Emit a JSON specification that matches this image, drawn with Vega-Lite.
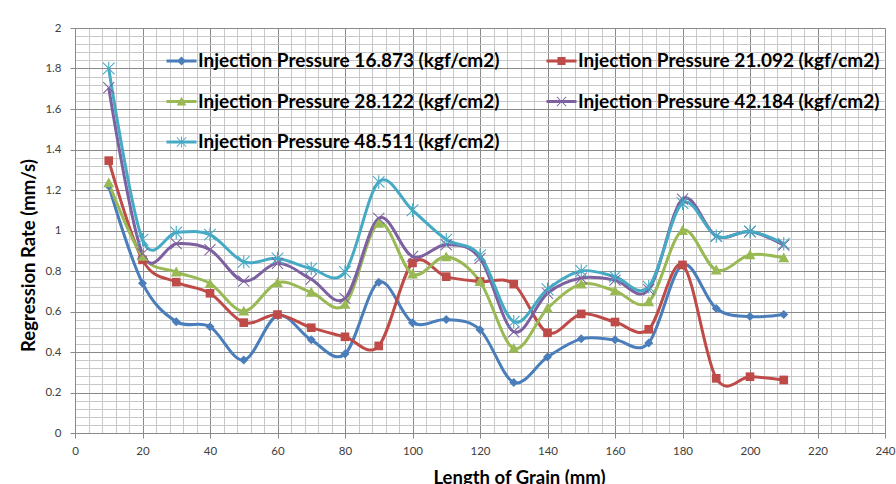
{
  "$schema": "https://vega.github.io/schema/vega-lite/v6.json",
  "width": 810,
  "height": 405,
  "autosize": "none",
  "padding": {"left": 75, "top": 28, "right": 11, "bottom": 51},
  "background": "white",
  "config": {"view": {"stroke": null}, "font": "Lato"},
  "data": {"values": [
    {"length": 10, "rate": 1.22, "series": "Injection Pressure 16.873 (kgf/cm2)"},
    {"length": 20, "rate": 0.74, "series": "Injection Pressure 16.873 (kgf/cm2)"},
    {"length": 30, "rate": 0.55, "series": "Injection Pressure 16.873 (kgf/cm2)"},
    {"length": 40, "rate": 0.525, "series": "Injection Pressure 16.873 (kgf/cm2)"},
    {"length": 50, "rate": 0.36, "series": "Injection Pressure 16.873 (kgf/cm2)"},
    {"length": 60, "rate": 0.58, "series": "Injection Pressure 16.873 (kgf/cm2)"},
    {"length": 70, "rate": 0.46, "series": "Injection Pressure 16.873 (kgf/cm2)"},
    {"length": 80, "rate": 0.39, "series": "Injection Pressure 16.873 (kgf/cm2)"},
    {"length": 90, "rate": 0.745, "series": "Injection Pressure 16.873 (kgf/cm2)"},
    {"length": 100, "rate": 0.545, "series": "Injection Pressure 16.873 (kgf/cm2)"},
    {"length": 110, "rate": 0.56, "series": "Injection Pressure 16.873 (kgf/cm2)"},
    {"length": 120, "rate": 0.51, "series": "Injection Pressure 16.873 (kgf/cm2)"},
    {"length": 130, "rate": 0.25, "series": "Injection Pressure 16.873 (kgf/cm2)"},
    {"length": 140, "rate": 0.375, "series": "Injection Pressure 16.873 (kgf/cm2)"},
    {"length": 150, "rate": 0.465, "series": "Injection Pressure 16.873 (kgf/cm2)"},
    {"length": 160, "rate": 0.46, "series": "Injection Pressure 16.873 (kgf/cm2)"},
    {"length": 170, "rate": 0.445, "series": "Injection Pressure 16.873 (kgf/cm2)"},
    {"length": 180, "rate": 0.83, "series": "Injection Pressure 16.873 (kgf/cm2)"},
    {"length": 190, "rate": 0.615, "series": "Injection Pressure 16.873 (kgf/cm2)"},
    {"length": 200, "rate": 0.575, "series": "Injection Pressure 16.873 (kgf/cm2)"},
    {"length": 210, "rate": 0.585, "series": "Injection Pressure 16.873 (kgf/cm2)"},
    {"length": 10, "rate": 1.345, "series": "Injection Pressure 21.092 (kgf/cm2)"},
    {"length": 20, "rate": 0.855, "series": "Injection Pressure 21.092 (kgf/cm2)"},
    {"length": 30, "rate": 0.745, "series": "Injection Pressure 21.092 (kgf/cm2)"},
    {"length": 40, "rate": 0.69, "series": "Injection Pressure 21.092 (kgf/cm2)"},
    {"length": 50, "rate": 0.545, "series": "Injection Pressure 21.092 (kgf/cm2)"},
    {"length": 60, "rate": 0.585, "series": "Injection Pressure 21.092 (kgf/cm2)"},
    {"length": 70, "rate": 0.52, "series": "Injection Pressure 21.092 (kgf/cm2)"},
    {"length": 80, "rate": 0.475, "series": "Injection Pressure 21.092 (kgf/cm2)"},
    {"length": 90, "rate": 0.43, "series": "Injection Pressure 21.092 (kgf/cm2)"},
    {"length": 100, "rate": 0.84, "series": "Injection Pressure 21.092 (kgf/cm2)"},
    {"length": 110, "rate": 0.772, "series": "Injection Pressure 21.092 (kgf/cm2)"},
    {"length": 120, "rate": 0.748, "series": "Injection Pressure 21.092 (kgf/cm2)"},
    {"length": 130, "rate": 0.735, "series": "Injection Pressure 21.092 (kgf/cm2)"},
    {"length": 140, "rate": 0.495, "series": "Injection Pressure 21.092 (kgf/cm2)"},
    {"length": 150, "rate": 0.588, "series": "Injection Pressure 21.092 (kgf/cm2)"},
    {"length": 160, "rate": 0.548, "series": "Injection Pressure 21.092 (kgf/cm2)"},
    {"length": 170, "rate": 0.512, "series": "Injection Pressure 21.092 (kgf/cm2)"},
    {"length": 180, "rate": 0.83, "series": "Injection Pressure 21.092 (kgf/cm2)"},
    {"length": 190, "rate": 0.27, "series": "Injection Pressure 21.092 (kgf/cm2)"},
    {"length": 200, "rate": 0.278, "series": "Injection Pressure 21.092 (kgf/cm2)"},
    {"length": 210, "rate": 0.262, "series": "Injection Pressure 21.092 (kgf/cm2)"},
    {"length": 10, "rate": 1.235, "series": "Injection Pressure 28.122 (kgf/cm2)"},
    {"length": 20, "rate": 0.872, "series": "Injection Pressure 28.122 (kgf/cm2)"},
    {"length": 30, "rate": 0.795, "series": "Injection Pressure 28.122 (kgf/cm2)"},
    {"length": 40, "rate": 0.738, "series": "Injection Pressure 28.122 (kgf/cm2)"},
    {"length": 50, "rate": 0.602, "series": "Injection Pressure 28.122 (kgf/cm2)"},
    {"length": 60, "rate": 0.742, "series": "Injection Pressure 28.122 (kgf/cm2)"},
    {"length": 70, "rate": 0.695, "series": "Injection Pressure 28.122 (kgf/cm2)"},
    {"length": 80, "rate": 0.635, "series": "Injection Pressure 28.122 (kgf/cm2)"},
    {"length": 90, "rate": 1.035, "series": "Injection Pressure 28.122 (kgf/cm2)"},
    {"length": 100, "rate": 0.785, "series": "Injection Pressure 28.122 (kgf/cm2)"},
    {"length": 110, "rate": 0.87, "series": "Injection Pressure 28.122 (kgf/cm2)"},
    {"length": 120, "rate": 0.748, "series": "Injection Pressure 28.122 (kgf/cm2)"},
    {"length": 130, "rate": 0.418, "series": "Injection Pressure 28.122 (kgf/cm2)"},
    {"length": 140, "rate": 0.615, "series": "Injection Pressure 28.122 (kgf/cm2)"},
    {"length": 150, "rate": 0.735, "series": "Injection Pressure 28.122 (kgf/cm2)"},
    {"length": 160, "rate": 0.702, "series": "Injection Pressure 28.122 (kgf/cm2)"},
    {"length": 170, "rate": 0.648, "series": "Injection Pressure 28.122 (kgf/cm2)"},
    {"length": 180, "rate": 1.0, "series": "Injection Pressure 28.122 (kgf/cm2)"},
    {"length": 190, "rate": 0.805, "series": "Injection Pressure 28.122 (kgf/cm2)"},
    {"length": 200, "rate": 0.88, "series": "Injection Pressure 28.122 (kgf/cm2)"},
    {"length": 210, "rate": 0.865, "series": "Injection Pressure 28.122 (kgf/cm2)"},
    {"length": 10, "rate": 1.705, "series": "Injection Pressure 42.184 (kgf/cm2)"},
    {"length": 20, "rate": 0.885, "series": "Injection Pressure 42.184 (kgf/cm2)"},
    {"length": 30, "rate": 0.935, "series": "Injection Pressure 42.184 (kgf/cm2)"},
    {"length": 40, "rate": 0.905, "series": "Injection Pressure 42.184 (kgf/cm2)"},
    {"length": 50, "rate": 0.75, "series": "Injection Pressure 42.184 (kgf/cm2)"},
    {"length": 60, "rate": 0.838, "series": "Injection Pressure 42.184 (kgf/cm2)"},
    {"length": 70, "rate": 0.76, "series": "Injection Pressure 42.184 (kgf/cm2)"},
    {"length": 80, "rate": 0.665, "series": "Injection Pressure 42.184 (kgf/cm2)"},
    {"length": 90, "rate": 1.06, "series": "Injection Pressure 42.184 (kgf/cm2)"},
    {"length": 100, "rate": 0.872, "series": "Injection Pressure 42.184 (kgf/cm2)"},
    {"length": 110, "rate": 0.93, "series": "Injection Pressure 42.184 (kgf/cm2)"},
    {"length": 120, "rate": 0.862, "series": "Injection Pressure 42.184 (kgf/cm2)"},
    {"length": 130, "rate": 0.5, "series": "Injection Pressure 42.184 (kgf/cm2)"},
    {"length": 140, "rate": 0.69, "series": "Injection Pressure 42.184 (kgf/cm2)"},
    {"length": 150, "rate": 0.765, "series": "Injection Pressure 42.184 (kgf/cm2)"},
    {"length": 160, "rate": 0.755, "series": "Injection Pressure 42.184 (kgf/cm2)"},
    {"length": 170, "rate": 0.708, "series": "Injection Pressure 42.184 (kgf/cm2)"},
    {"length": 180, "rate": 1.155, "series": "Injection Pressure 42.184 (kgf/cm2)"},
    {"length": 190, "rate": 0.972, "series": "Injection Pressure 42.184 (kgf/cm2)"},
    {"length": 200, "rate": 0.995, "series": "Injection Pressure 42.184 (kgf/cm2)"},
    {"length": 210, "rate": 0.928, "series": "Injection Pressure 42.184 (kgf/cm2)"},
    {"length": 10, "rate": 1.8, "series": "Injection Pressure 48.511 (kgf/cm2)"},
    {"length": 20, "rate": 0.955, "series": "Injection Pressure 48.511 (kgf/cm2)"},
    {"length": 30, "rate": 0.99, "series": "Injection Pressure 48.511 (kgf/cm2)"},
    {"length": 40, "rate": 0.98, "series": "Injection Pressure 48.511 (kgf/cm2)"},
    {"length": 50, "rate": 0.845, "series": "Injection Pressure 48.511 (kgf/cm2)"},
    {"length": 60, "rate": 0.862, "series": "Injection Pressure 48.511 (kgf/cm2)"},
    {"length": 70, "rate": 0.812, "series": "Injection Pressure 48.511 (kgf/cm2)"},
    {"length": 80, "rate": 0.795, "series": "Injection Pressure 48.511 (kgf/cm2)"},
    {"length": 90, "rate": 1.24, "series": "Injection Pressure 48.511 (kgf/cm2)"},
    {"length": 100, "rate": 1.1, "series": "Injection Pressure 48.511 (kgf/cm2)"},
    {"length": 110, "rate": 0.955, "series": "Injection Pressure 48.511 (kgf/cm2)"},
    {"length": 120, "rate": 0.878, "series": "Injection Pressure 48.511 (kgf/cm2)"},
    {"length": 130, "rate": 0.55, "series": "Injection Pressure 48.511 (kgf/cm2)"},
    {"length": 140, "rate": 0.71, "series": "Injection Pressure 48.511 (kgf/cm2)"},
    {"length": 150, "rate": 0.8, "series": "Injection Pressure 48.511 (kgf/cm2)"},
    {"length": 160, "rate": 0.772, "series": "Injection Pressure 48.511 (kgf/cm2)"},
    {"length": 170, "rate": 0.722, "series": "Injection Pressure 48.511 (kgf/cm2)"},
    {"length": 180, "rate": 1.135, "series": "Injection Pressure 48.511 (kgf/cm2)"},
    {"length": 190, "rate": 0.972, "series": "Injection Pressure 48.511 (kgf/cm2)"},
    {"length": 200, "rate": 0.995, "series": "Injection Pressure 48.511 (kgf/cm2)"},
    {"length": 210, "rate": 0.935, "series": "Injection Pressure 48.511 (kgf/cm2)"}
  ]},
  "layer": [
    {
      "mark": {"type": "line", "interpolate": "cardinal", "strokeWidth": 3},
      "encoding": {
        "x": {
          "field": "length", "type": "quantitative",
          "scale": {"domain": [0, 240], "nice": false, "zero": false},
          "axis": {
            "title": "Length of Grain (mm)",
            "values": [0,4,8,12,16,20,24,28,32,36,40,44,48,52,56,60,64,68,72,76,80,84,88,92,96,100,104,108,112,116,120,124,128,132,136,140,144,148,152,156,160,164,168,172,176,180,184,188,192,196,200,204,208,212,216,220,224,228,232,236,240],
            "tickCount": 1000,
            "labelExpr": "datum.value % 20 === 0 ? format(datum.value, 'd') : ''",
            "labelOverlap": false,
            "labelFont": "Lato", "labelFontSize": 11.5, "labelColor": "#404040",
            "labelPadding": 7,
            "labelFlush": false,
            "grid": true,
            "gridColor": {"condition": {"test": "datum.value % 20 === 0", "value": "#8a8a8a"}, "value": "#c8c8c8"},
            "gridWidth": 1,
            "tickColor": "#8a8a8a",
            "tickOpacity": {"condition": {"test": "datum.value % 20 === 0", "value": 1}, "value": 0},
            "tickSize": 5,
            "domainColor": "#8a8a8a",
            "titleFont": "Lato", "titleFontSize": 18.5, "titleFontWeight": "bold", "titleColor": "#000000",
            "titleX": 444, "titleY": 35, "titleBaseline": "top", "titleAnchor": "middle"
          }
        },
        "y": {
          "field": "rate", "type": "quantitative",
          "scale": {"domain": [0, 2], "nice": false},
          "axis": {
            "title": "Regression Rate (mm/s)",
            "values": [0,0.04,0.08,0.12,0.16,0.2,0.24,0.28,0.32,0.36,0.4,0.44,0.48,0.52,0.56,0.6,0.64,0.68,0.72,0.76,0.8,0.84,0.88,0.92,0.96,1,1.04,1.08,1.12,1.16,1.2,1.24,1.28,1.32,1.36,1.4,1.44,1.48,1.52,1.56,1.6,1.64,1.68,1.72,1.76,1.8,1.84,1.88,1.92,1.96,2],
            "tickCount": 1000,
            "labelExpr": "abs(datum.value*5 - round(datum.value*5)) < 0.001 ? format(datum.value, '~g') : ''",
            "labelOverlap": false,
            "labelFont": "Lato", "labelFontSize": 11.5, "labelColor": "#404040",
            "labelPadding": 9,
            "labelFlush": false,
            "grid": true,
            "gridColor": {"condition": {"test": "abs(datum.value*5 - round(datum.value*5)) < 0.001", "value": "#8a8a8a"}, "value": "#c8c8c8"},
            "gridWidth": 1,
            "tickColor": "#8a8a8a",
            "tickOpacity": {"condition": {"test": "abs(datum.value*5 - round(datum.value*5)) < 0.001", "value": 1}, "value": 0},
            "tickSize": 5,
            "domainColor": "#8a8a8a",
            "titleFont": "Lato", "titleFontSize": 18.5, "titleFontWeight": "bold", "titleColor": "#000000",
            "titleX": -47, "titleY": 227, "titleBaseline": "middle", "titleAngle": -90, "titleAnchor": "middle"
          }
        },
        "color": {
          "field": "series", "type": "nominal",
          "scale": {
            "domain": ["Injection Pressure 16.873 (kgf/cm2)", "Injection Pressure 21.092 (kgf/cm2)", "Injection Pressure 28.122 (kgf/cm2)", "Injection Pressure 42.184 (kgf/cm2)", "Injection Pressure 48.511 (kgf/cm2)"],
            "range": ["#4A7EBB", "#BE4B48", "#98B954", "#7D60A0", "#46AAC5"]
          },
          "legend": {
            "title": null, "orient": "none", "legendX": 90, "legendY": 22,
            "direction": "horizontal", "columns": 2, "columnPadding": 45, "rowPadding": 18.5,
            "symbolType": "stroke", "symbolSize": 900, "symbolStrokeWidth": 3,
            "clipHeight": 22, "padding": 0, "labelOffset": 0,
            "labelFont": "Lato", "labelFontSize": 19, "labelFontWeight": "bold", "labelColor": "#000000",
            "labelLimit": 0
          }
        }
      }
    },
    {
      "mark": {"type": "point", "filled": true, "opacity": 1},
      "encoding": {
        "x": {"field": "length", "type": "quantitative"},
        "y": {"field": "rate", "type": "quantitative"},
        "color": {
          "field": "series", "type": "nominal",
          "scale": {
            "domain": ["Injection Pressure 16.873 (kgf/cm2)", "Injection Pressure 21.092 (kgf/cm2)", "Injection Pressure 28.122 (kgf/cm2)", "Injection Pressure 42.184 (kgf/cm2)", "Injection Pressure 48.511 (kgf/cm2)"],
            "range": ["#4A7EBB", "#BE4B48", "#98B954", "#7D60A0", "#46AAC5"]
          },
          "legend": {
            "title": null, "orient": "none", "legendX": 90, "legendY": 22,
            "direction": "horizontal", "columns": 2, "columnPadding": 45, "rowPadding": 18.5,
            "symbolSize": 900, "symbolStrokeWidth": 3, "symbolStrokeColor": "transparent",
            "clipHeight": 22, "padding": 0, "labelOffset": 0,
            "labelFont": "Lato", "labelFontSize": 19, "labelFontWeight": "bold", "labelColor": "#000000",
            "labelOpacity": 0, "labelLimit": 0
          }
        },
        "shape": {
          "field": "series", "type": "nominal",
          "scale": {
            "domain": ["Injection Pressure 16.873 (kgf/cm2)", "Injection Pressure 21.092 (kgf/cm2)", "Injection Pressure 28.122 (kgf/cm2)", "Injection Pressure 42.184 (kgf/cm2)", "Injection Pressure 48.511 (kgf/cm2)"],
            "range": [
              "M0,-0.3L0.3,0L0,0.3L-0.3,0Z",
              "M-0.27,-0.27L0.27,-0.27L0.27,0.27L-0.27,0.27Z",
              "M0,-0.32L0.32,0.26L-0.32,0.26Z",
              "M-0.33,-0.29L-0.29,-0.33L0,-0.04L0.29,-0.33L0.33,-0.29L0.04,0L0.33,0.29L0.29,0.33L0,0.04L-0.29,0.33L-0.33,0.29L-0.04,0Z",
              "M-0.33,-0.29L-0.29,-0.33L0,-0.04L0.29,-0.33L0.33,-0.29L0.04,0L0.33,0.29L0.29,0.33L0,0.04L-0.29,0.33L-0.33,0.29L-0.04,0ZM-0.03,-0.36L0.03,-0.36L0.03,0.36L-0.03,0.36Z"
            ]
          }
        },
        "size": {
          "field": "series", "type": "nominal",
          "scale": {
            "domain": ["Injection Pressure 16.873 (kgf/cm2)", "Injection Pressure 21.092 (kgf/cm2)", "Injection Pressure 28.122 (kgf/cm2)", "Injection Pressure 42.184 (kgf/cm2)", "Injection Pressure 48.511 (kgf/cm2)"],
            "range": [900, 1400, 1100, 1100, 1100]
          },
          "legend": null
        }
      }
    }
  ],
  "resolve": {"scale": {"color": "independent", "shape": "independent"}, "legend": {"color": "independent"}}
}
